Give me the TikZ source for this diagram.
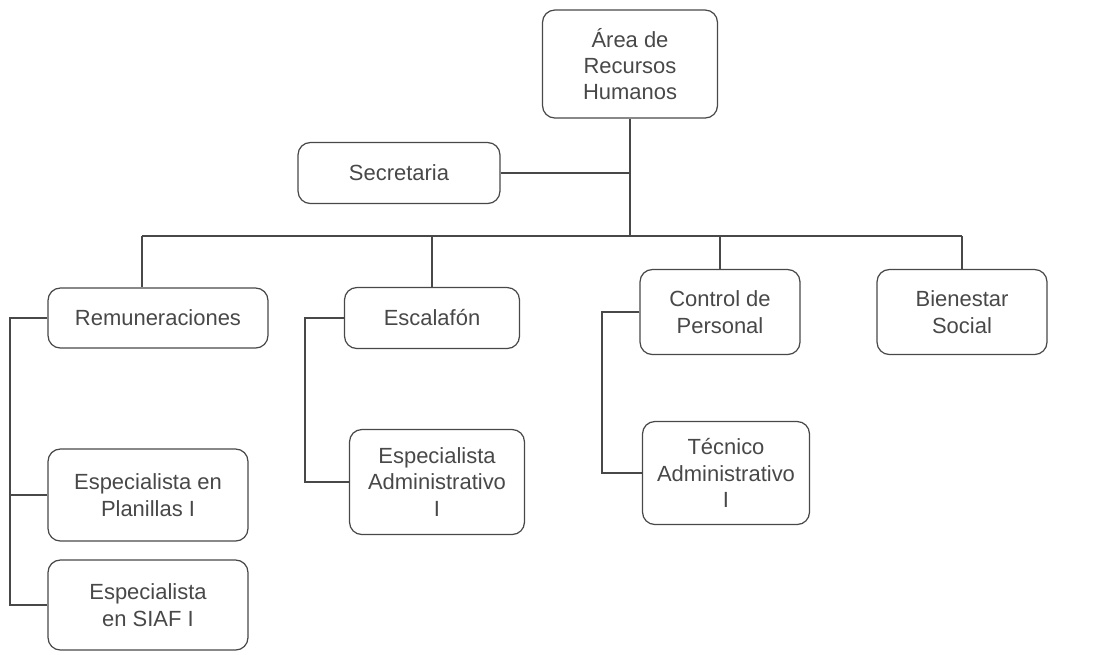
\documentclass[tikz,border=0pt]{standalone}
\usepackage{fontspec}
\setmainfont{Liberation Sans}
\usepackage{tikz}
\usetikzlibrary{positioning}
\definecolor{tinta}{RGB}{72,72,72}

\begin{document}
\begin{tikzpicture}[x=0.02cm,y=-0.02cm,
    cargo/.style={draw=tinta,text=tinta,rounded corners=7pt,align=center,line width=0.7pt,inner sep=2pt,font=\fontsize{12.5}{15}\selectfont},
    linea/.style={draw=tinta,line width=0.7pt}]
      \useasboundingbox (0,0) rectangle (1096,654);
      \node[cargo,minimum width=3.5cm,minimum height=2.16cm](area) at (630,64){Área de\\Recursos\\Humanos};
      \node[cargo,minimum width=4.04cm,minimum height=1.22cm](secretaria) at (399,173){Secretaria};
      \node[cargo,minimum width=4.4cm,minimum height=1.2cm](remuneraciones) at (158,318){Remuneraciones};
      \node[cargo,minimum width=3.5cm,minimum height=1.22cm](escalafon) at (432,318){Escalafón};
      \node[cargo,minimum width=3.2cm,minimum height=1.7cm](control) at (720,312){Control de\\Personal};
      \node[cargo,minimum width=3.4cm,minimum height=1.7cm](bienestar) at (962,312){Bienestar\\Social};
      \node[cargo,minimum width=4.0cm,minimum height=1.84cm](planillas) at (148,495){Especialista en\\Planillas I};
      \node[cargo,minimum width=4.0cm,minimum height=1.8cm](siaf) at (148,605){Especialista\\en SIAF I};
      \node[cargo,minimum width=3.5cm,minimum height=2.1cm](espadm) at (437,482){Especialista\\Administrativo\\I};
      \node[cargo,minimum width=3.34cm,minimum height=2.06cm](tecadm) at (726,473){Técnico\\Administrativo\\I};

      \coordinate (bus) at (630,236);
      \coordinate (busizq) at (142,236);
      \coordinate (ejeA) at (10,0);
      \coordinate (ejeB) at (305,0);
      \coordinate (ejeC) at (602,0);

      \draw[linea] (area.south) -- (bus);
      \draw[linea] (secretaria.east) -- (secretaria.east -| area.south);
      \draw[linea] (busizq) -- (bus -| bienestar.north);
      \draw[linea] (busizq) -- (busizq |- remuneraciones.north);
      \draw[linea] (escalafon.north |- bus) -- (escalafon.north);
      \draw[linea] (control.north |- bus) -- (control.north);
      \draw[linea] (bienestar.north |- bus) -- (bienestar.north);

      \draw[linea] (remuneraciones.west) -- (remuneraciones.west -| ejeA) |- (siaf.west);
      \draw[linea] (planillas.west) -- (planillas.west -| ejeA);
      \draw[linea] (escalafon.west) -- (escalafon.west -| ejeB) |- (espadm.west);
      \draw[linea] (control.west) -- (control.west -| ejeC) |- (tecadm.west);
\end{tikzpicture}
\end{document}
